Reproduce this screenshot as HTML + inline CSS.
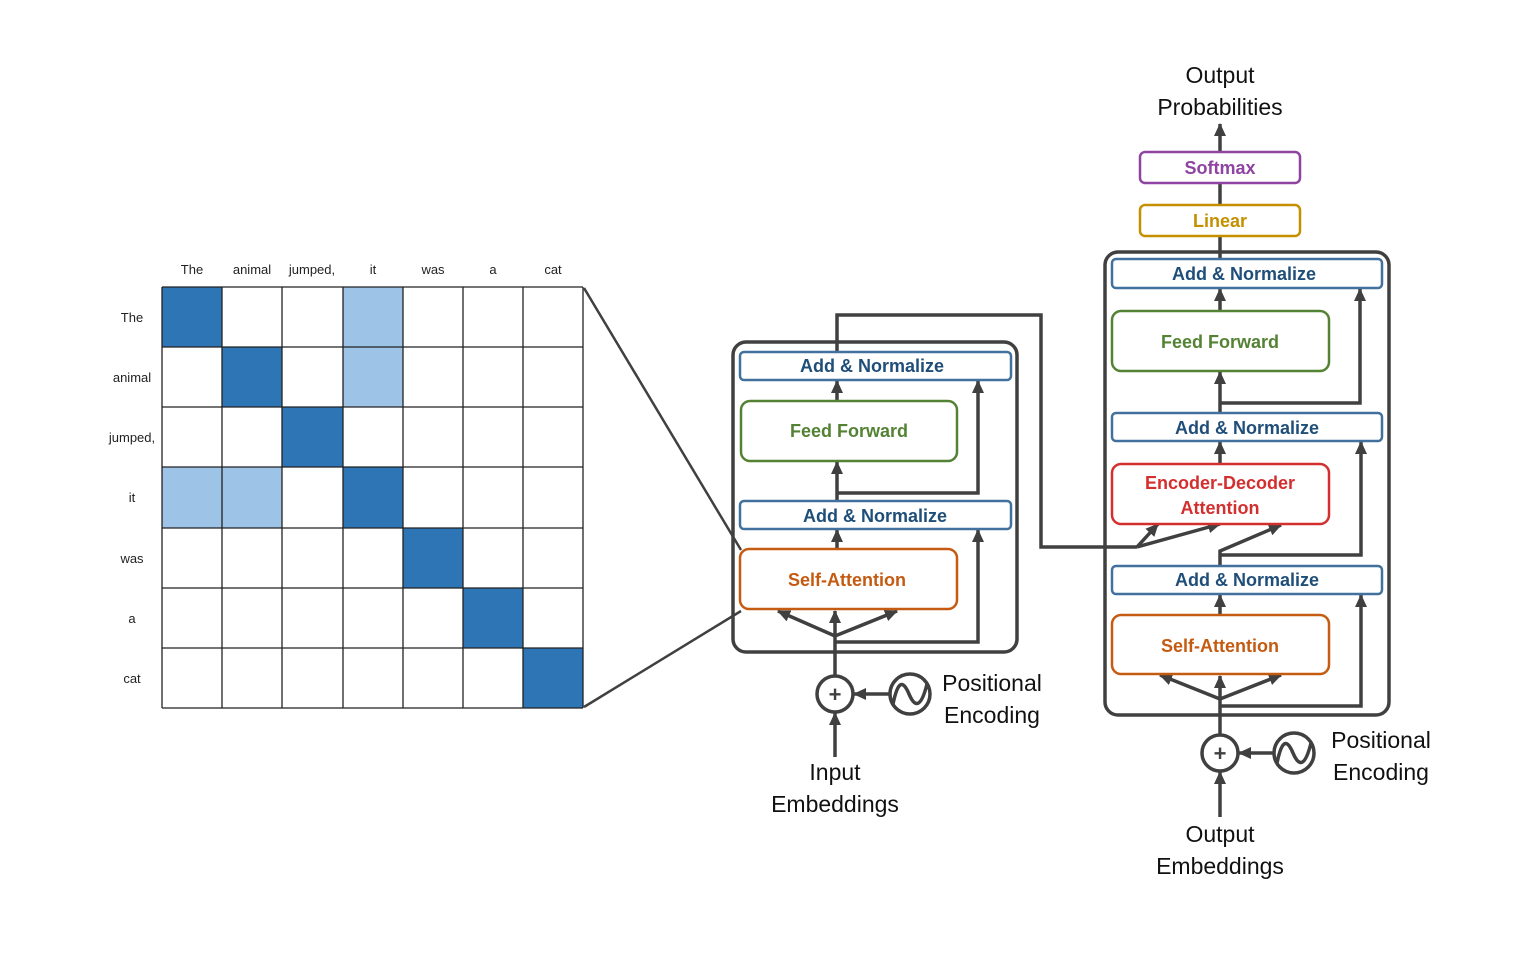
<!DOCTYPE html>
<html><head><meta charset="utf-8"><style>
html,body{margin:0;padding:0;background:#fff;}
svg{display:block;}
text{font-family:"Liberation Sans",sans-serif;}
.b{font-weight:bold;font-size:18px;text-anchor:middle;}
.lbl{font-size:13px;fill:#222;}
.big{font-size:23px;fill:#111;text-anchor:middle;}
</style></head><body>
<svg width="1519" height="969" viewBox="0 0 1519 969" xmlns="http://www.w3.org/2000/svg">
<defs>
<marker id="a" markerUnits="userSpaceOnUse" markerWidth="14" markerHeight="14" refX="12" refY="6" orient="auto">
<path d="M0,0 L13,6 L0,12 Z" fill="#404040"/></marker>
</defs>
<!-- matrix -->
<g>
<rect x="162" y="287" width="60" height="60" fill="#2e75b6"/>
<rect x="222" y="347" width="60" height="60" fill="#2e75b6"/>
<rect x="282" y="407" width="61" height="60" fill="#2e75b6"/>
<rect x="343" y="467" width="60" height="61" fill="#2e75b6"/>
<rect x="403" y="528" width="60" height="60" fill="#2e75b6"/>
<rect x="463" y="588" width="60" height="60" fill="#2e75b6"/>
<rect x="523" y="648" width="60" height="60" fill="#2e75b6"/>
<rect x="343" y="287" width="60" height="60" fill="#9dc3e6"/>
<rect x="343" y="347" width="60" height="60" fill="#9dc3e6"/>
<rect x="162" y="467" width="60" height="61" fill="#9dc3e6"/>
<rect x="222" y="467" width="60" height="61" fill="#9dc3e6"/>
<g stroke="#222" stroke-width="1.3">
<line x1="162" y1="287" x2="583" y2="287"/><line x1="162" y1="347" x2="583" y2="347"/>
<line x1="162" y1="407" x2="583" y2="407"/><line x1="162" y1="467" x2="583" y2="467"/>
<line x1="162" y1="528" x2="583" y2="528"/><line x1="162" y1="588" x2="583" y2="588"/>
<line x1="162" y1="648" x2="583" y2="648"/><line x1="162" y1="708" x2="583" y2="708"/>
<line x1="162" y1="287" x2="162" y2="708"/><line x1="222" y1="287" x2="222" y2="708"/>
<line x1="282" y1="287" x2="282" y2="708"/><line x1="343" y1="287" x2="343" y2="708"/>
<line x1="403" y1="287" x2="403" y2="708"/><line x1="463" y1="287" x2="463" y2="708"/>
<line x1="523" y1="287" x2="523" y2="708"/><line x1="583" y1="287" x2="583" y2="708"/>
</g>
<g class="lbl" text-anchor="middle">
<text x="192" y="274">The</text><text x="252" y="274">animal</text><text x="312" y="274">jumped,</text>
<text x="373" y="274">it</text><text x="433" y="274">was</text><text x="493" y="274">a</text><text x="553" y="274">cat</text>
<text x="132" y="322">The</text><text x="132" y="382">animal</text><text x="132" y="442">jumped,</text>
<text x="132" y="502">it</text><text x="132" y="563">was</text><text x="132" y="623">a</text><text x="132" y="683">cat</text>
</g>
</g>
<g stroke="#404040" stroke-width="2.5" fill="none">
<line x1="584" y1="288" x2="741" y2="550"/>
<line x1="584" y1="707" x2="741" y2="611"/>
</g>
<!-- encoder -->
<g fill="none" stroke="#404040" stroke-width="3.5">
<rect x="733" y="342" width="284" height="310" rx="13"/>
</g>
<g stroke="#404040" stroke-width="3.5" fill="none">
<polyline points="837,352 837,315 1041,315 1041,547 1137,547"/>
<line x1="837" y1="401" x2="837" y2="381" marker-end="url(#a)"/>
<line x1="837" y1="501" x2="837" y2="462" marker-end="url(#a)"/>
<polyline points="837,493 978,493 978,381" marker-end="url(#a)"/>
<line x1="837" y1="549" x2="837" y2="530" marker-end="url(#a)"/>
<line x1="835" y1="676" x2="835" y2="611" marker-end="url(#a)"/>
<polyline points="835,642 978,642 978,530" marker-end="url(#a)"/>
<line x1="835" y1="636" x2="778" y2="611" marker-end="url(#a)"/>
<line x1="835" y1="636" x2="897" y2="611" marker-end="url(#a)"/>
<line x1="835" y1="757" x2="835" y2="713" marker-end="url(#a)"/>
<line x1="890" y1="694" x2="854" y2="694" marker-end="url(#a)"/>
</g>
<rect x="740" y="352" width="271" height="28" rx="4" fill="#fff" stroke="#41719c" stroke-width="2.5"/>
<text class="b" x="872" y="372" fill="#1f4e79">Add &amp; Normalize</text>
<rect x="741" y="401" width="216" height="60" rx="9" fill="#fff" stroke="#548235" stroke-width="2.5"/>
<text class="b" x="849" y="437" fill="#548235">Feed Forward</text>
<rect x="740" y="501" width="271" height="28" rx="4" fill="#fff" stroke="#41719c" stroke-width="2.5"/>
<text class="b" x="875" y="522" fill="#1f4e79">Add &amp; Normalize</text>
<rect x="740" y="549" width="217" height="60" rx="9" fill="#fff" stroke="#c55a11" stroke-width="2.5"/>
<text class="b" x="847" y="586" fill="#c55a11">Self-Attention</text>
<circle cx="835" cy="694" r="18" fill="#fff" stroke="#404040" stroke-width="3.5"/>
<text x="835" y="702" text-anchor="middle" font-size="22" font-weight="bold" fill="#404040">+</text>
<circle cx="910" cy="694" r="20" fill="#fff" stroke="#404040" stroke-width="3.5"/>
<path d="M893,704 C898,680 903,680 909,694 C915,708 921,708 927,684" fill="none" stroke="#404040" stroke-width="3.5"/>
<text class="big" x="992" y="691">Positional</text>
<text class="big" x="992" y="723">Encoding</text>
<text class="big" x="835" y="780">Input</text>
<text class="big" x="835" y="812">Embeddings</text>
<!-- decoder -->
<rect x="1105" y="252" width="284" height="463" rx="13" fill="none" stroke="#404040" stroke-width="3.5"/>
<g stroke="#404040" stroke-width="3.5" fill="none">
<line x1="1220" y1="152" x2="1220" y2="124" marker-end="url(#a)"/>
<line x1="1220" y1="259" x2="1220" y2="183"/>
<line x1="1220" y1="311" x2="1220" y2="289" marker-end="url(#a)"/>
<line x1="1220" y1="413" x2="1220" y2="372" marker-end="url(#a)"/>
<polyline points="1220,403 1360,403 1360,289" marker-end="url(#a)"/>
<line x1="1220" y1="464" x2="1220" y2="442" marker-end="url(#a)"/>
<line x1="1137" y1="547" x2="1158" y2="524" marker-end="url(#a)"/>
<line x1="1137" y1="547" x2="1220" y2="524" marker-end="url(#a)"/>
<polyline points="1220,566 1220,551 1281,525" marker-end="url(#a)"/>
<polyline points="1220,555 1361,555 1361,442" marker-end="url(#a)"/>
<line x1="1220" y1="615" x2="1220" y2="595" marker-end="url(#a)"/>
<line x1="1220" y1="735" x2="1220" y2="676" marker-end="url(#a)"/>
<polyline points="1220,706 1361,706 1361,595" marker-end="url(#a)"/>
<line x1="1220" y1="699" x2="1160" y2="675" marker-end="url(#a)"/>
<line x1="1220" y1="699" x2="1281" y2="675" marker-end="url(#a)"/>
<line x1="1220" y1="817" x2="1220" y2="772" marker-end="url(#a)"/>
<line x1="1274" y1="753" x2="1239" y2="753" marker-end="url(#a)"/>
</g>
<rect x="1140" y="152" width="160" height="31" rx="5" fill="#fff" stroke="#8e44a0" stroke-width="2.5"/>
<text class="b" x="1220" y="174" fill="#8e44a0">Softmax</text>
<rect x="1140" y="205" width="160" height="31" rx="5" fill="#fff" stroke="#c49000" stroke-width="2.5"/>
<text class="b" x="1220" y="227" fill="#c49000">Linear</text>
<rect x="1112" y="259" width="270" height="29" rx="4" fill="#fff" stroke="#41719c" stroke-width="2.5"/>
<text class="b" x="1244" y="280" fill="#1f4e79">Add &amp; Normalize</text>
<rect x="1112" y="311" width="217" height="60" rx="9" fill="#fff" stroke="#548235" stroke-width="2.5"/>
<text class="b" x="1220" y="348" fill="#548235">Feed Forward</text>
<rect x="1112" y="413" width="270" height="28" rx="4" fill="#fff" stroke="#41719c" stroke-width="2.5"/>
<text class="b" x="1247" y="434" fill="#1f4e79">Add &amp; Normalize</text>
<rect x="1112" y="464" width="217" height="60" rx="9" fill="#fff" stroke="#d32f2f" stroke-width="2.5"/>
<text class="b" x="1220" y="489" fill="#d32f2f">Encoder-Decoder</text>
<text class="b" x="1220" y="514" fill="#d32f2f">Attention</text>
<rect x="1112" y="566" width="270" height="28" rx="4" fill="#fff" stroke="#41719c" stroke-width="2.5"/>
<text class="b" x="1247" y="586" fill="#1f4e79">Add &amp; Normalize</text>
<rect x="1112" y="615" width="217" height="59" rx="9" fill="#fff" stroke="#c55a11" stroke-width="2.5"/>
<text class="b" x="1220" y="652" fill="#c55a11">Self-Attention</text>
<circle cx="1220" cy="753" r="18" fill="#fff" stroke="#404040" stroke-width="3.5"/>
<text x="1220" y="761" text-anchor="middle" font-size="22" font-weight="bold" fill="#404040">+</text>
<circle cx="1294" cy="753" r="20" fill="#fff" stroke="#404040" stroke-width="3.5"/>
<path d="M1277,763 C1282,739 1287,739 1293,753 C1299,767 1305,767 1311,743" fill="none" stroke="#404040" stroke-width="3.5"/>
<text class="big" x="1381" y="748">Positional</text>
<text class="big" x="1381" y="780">Encoding</text>
<text class="big" x="1220" y="842">Output</text>
<text class="big" x="1220" y="874">Embeddings</text>
<text class="big" x="1220" y="83">Output</text>
<text class="big" x="1220" y="115">Probabilities</text>
</svg>
</body></html>
